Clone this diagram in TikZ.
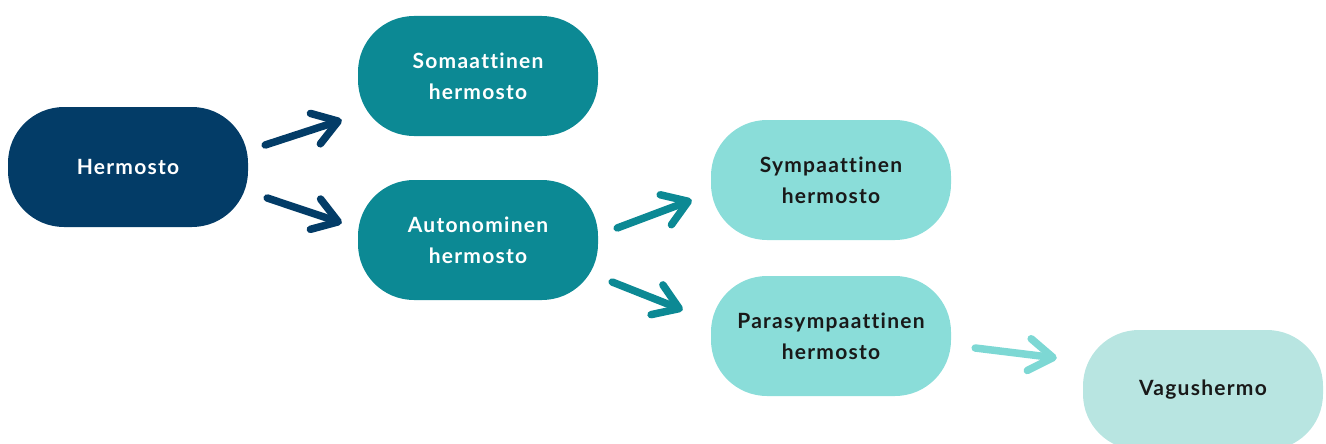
\documentclass[tikz,border=0pt]{standalone}
\usepackage{fontspec}
\setmainfont[LetterSpace=6,Ligatures={NoCommon}]{Lato}
\usetikzlibrary{arrows.meta}
\definecolor{navy}{RGB}{3,60,103}
\definecolor{teal1}{RGB}{12,137,148}
\definecolor{teal2}{RGB}{138,221,217}
\definecolor{teal3}{RGB}{184,229,225}
\definecolor{arrlight}{RGB}{125,216,212}
\begin{document}
\begin{tikzpicture}[x=1pt,y=-1pt,
 box/.style={rounded corners=56pt,minimum width=240pt,minimum height=120pt,
 align=center,font=\bfseries\fontsize{21}{31}\selectfont,inner sep=0pt},
 brush/.style={line width=7.5pt,line cap=round,line join=round,
 -{Straight Barb[length=24pt,width=32pt,line cap=round,line join=round]}}]
  \useasboundingbox (0,0) rectangle (1326,444);

  \node[box,fill=navy,text=white] (herm) at (128,167) {Hermosto};
  \node[box,fill=teal1,text=white] (soma) at (478,76) {Somaattinen\\hermosto};
  \node[box,fill=teal1,text=white] (auto) at (478,240) {Autonominen\\hermosto};
  \node[box,fill=teal2,text=black!90] (symp) at (831,180) {Sympaattinen\\hermosto};
  \node[box,fill=teal2,text=black!90] (para) at (831,336) {Parasympaattinen\\hermosto};
  \node[box,fill=teal3,text=black!90] (vagus) at (1203,390) {Vagushermo};

  \draw[brush,navy] ([xshift=17pt,yshift=22pt]herm.east)
   -- ([xshift=-16pt,yshift=-44pt]soma.west);
  \draw[brush,navy] ([xshift=19pt,yshift=-31pt]herm.east)
   -- ([xshift=-16pt,yshift=17pt]auto.west);
  \draw[brush,teal1] ([xshift=19pt,yshift=12pt]auto.east)
   -- ([xshift=-19pt,yshift=-20pt]symp.west);
  \draw[brush,teal1] ([xshift=14pt,yshift=-42pt]auto.east)
   -- ([xshift=-28pt,yshift=26pt]para.west);
  \draw[brush,arrlight] ([xshift=24pt,yshift=-12pt]para.east)
   -- ([xshift=-26pt,yshift=32pt]vagus.west);
\end{tikzpicture}
\end{document}
